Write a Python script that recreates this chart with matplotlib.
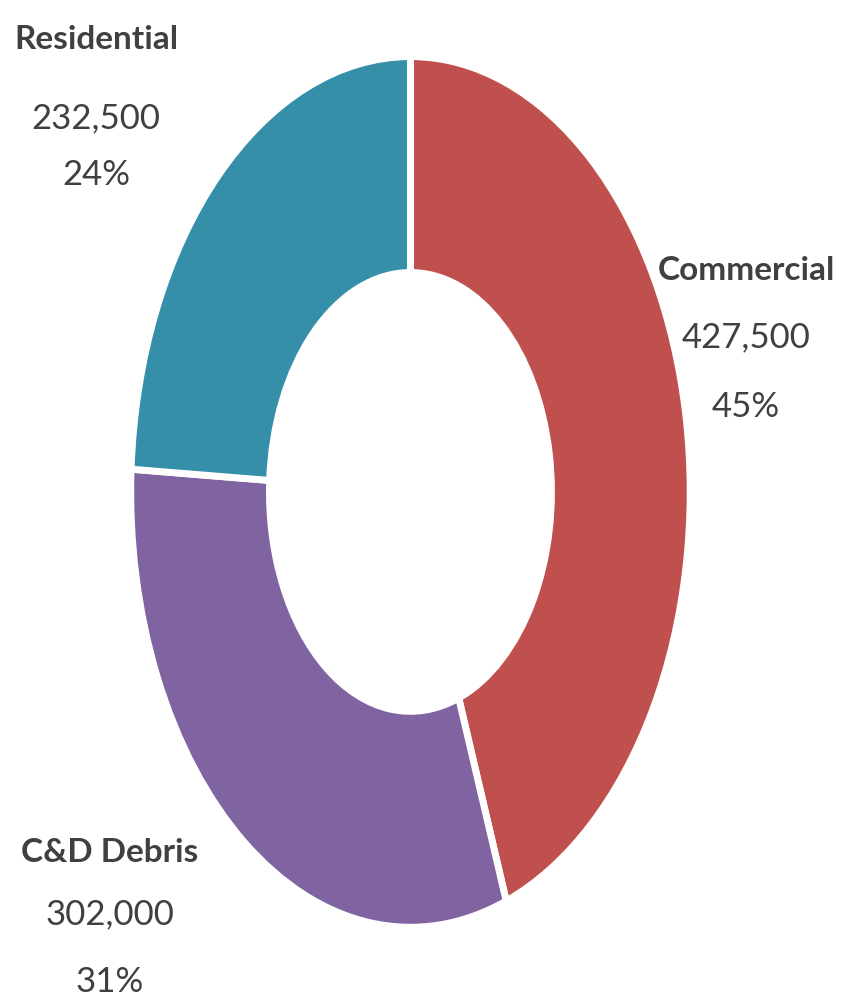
import matplotlib
matplotlib.use("Agg")
import matplotlib.pyplot as plt

# Data (clockwise from 12 o'clock)
categories = ["Commercial", "C&D Debris", "Residential"]
values = [427500, 302000, 232500]
percent_labels = [45, 31, 24]
colors = ["#C0504D", "#8064A2", "#358FA9"]

# label anchor positions (data coords, baseline of the first line) and line spacing
label_x = [1.209, -1.083, -1.133]
label_y = [0.491, -0.856, 1.025]
line_gaps = [[0.0, -0.155, -0.317], [0.0, -0.146, -0.301], [0.0, -0.182, -0.314]]

txt_color = "#404040"
fam = ["Lato", "DejaVu Sans"]

fig = plt.figure(figsize=(8.42, 10.02), dpi=100)
ax = fig.add_axes([0, 0, 1, 1])

wedges, _ = ax.pie(values, colors=colors, startangle=90, counterclock=False,
                   radius=1.008,
                   wedgeprops=dict(width=0.50, edgecolor="white", linewidth=5))

ax.set_aspect("auto")
ax.set_xlim(-1.479, 1.555)
ax.set_ylim(-1.181, 1.139)
ax.axis("off")

for i, cat in enumerate(categories):
    x, y0 = label_x[i], label_y[i]
    g = line_gaps[i]
    ax.text(x, y0 + g[0], cat, ha="center", va="baseline", fontsize=24,
            fontweight="bold", color=txt_color, family=fam)
    ax.text(x, y0 + g[1], f"{values[i]:,}", ha="center", va="baseline",
            fontsize=25, color=txt_color, family=fam)
    ax.text(x, y0 + g[2], f"{percent_labels[i]}%", ha="center", va="baseline",
            fontsize=25, color=txt_color, family=fam)

fig.savefig("out.png", dpi=100, facecolor="white")
